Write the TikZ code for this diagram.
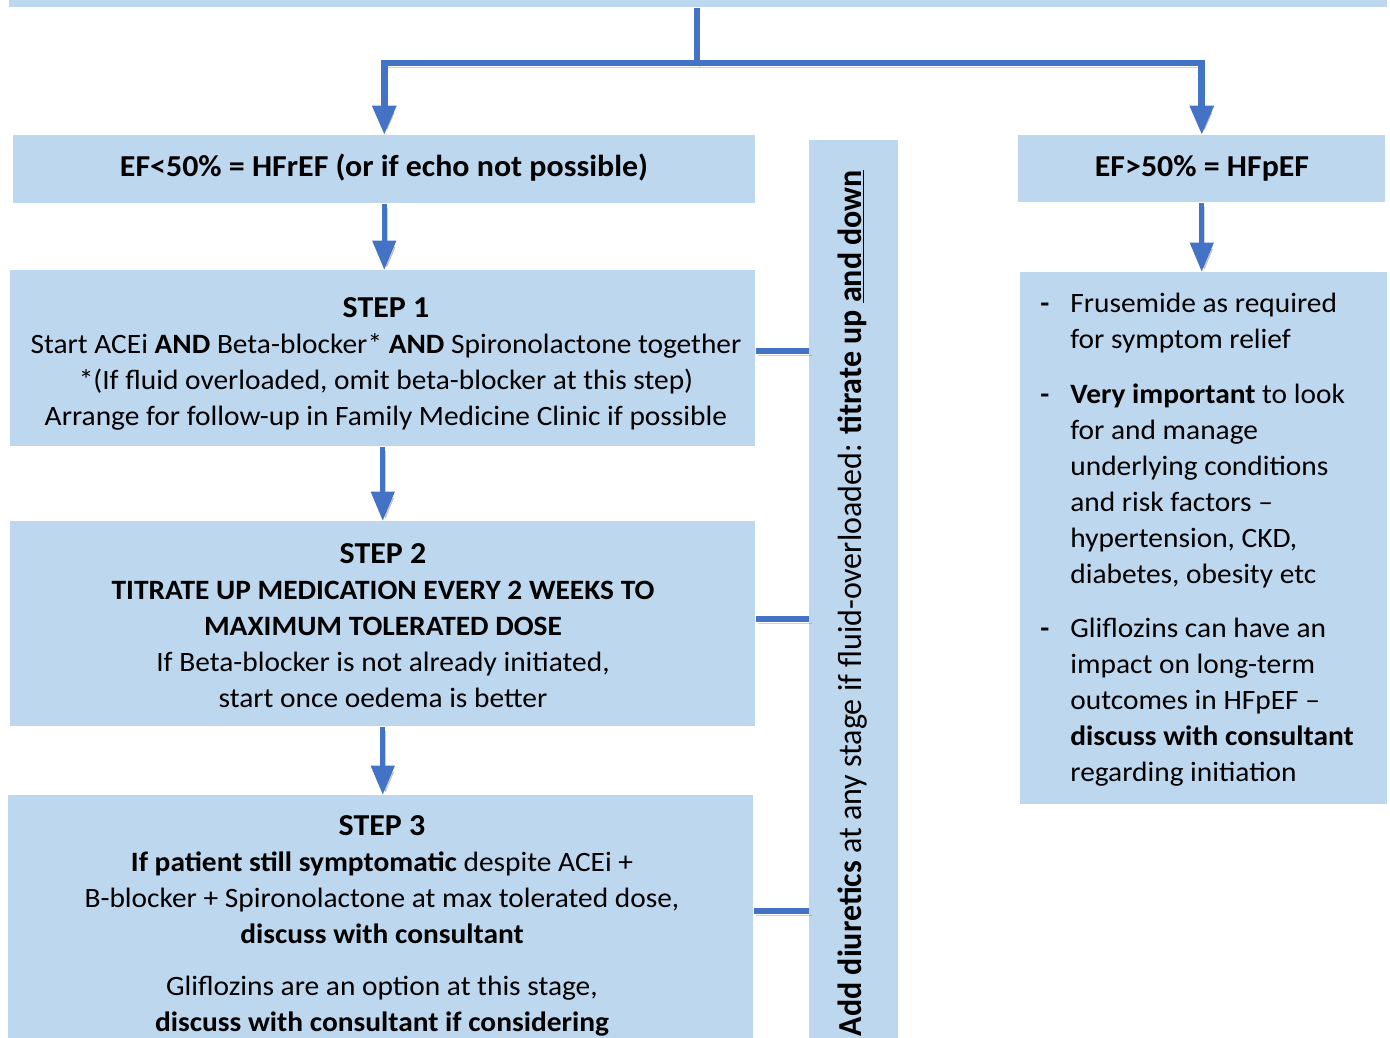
\documentclass[tikz,border=0pt]{standalone}
\usepackage{fontspec}
\setmainfont{Carlito}
\usetikzlibrary{arrows.meta,calc}
\definecolor{boxblue}{HTML}{BDD7EE}
\definecolor{arrblue}{HTML}{4472C4}
\newcommand\hdtext[1]{{\fontsize{22.8}{27}\selectfont\textbf{#1}}}
\begin{document}
\begin{tikzpicture}[x=0.75pt,y=-0.75pt,
  box/.style={fill=boxblue,draw=none,inner sep=0pt,anchor=north west},
  txt/.style={align=center,inner sep=0pt,xscale=1.05,font=\fontsize{21}{27}\selectfont},
  shad/.style={preaction={draw=black,opacity=0.18,transform canvas={xshift=2pt,yshift=-3pt}}},
  lnk/.style={draw=arrblue,line width=4.5pt,shad},
  arr/.style={draw=arrblue,line width=4pt,shad,-{Triangle[width=17pt,length=22pt]}}]
\useasboundingbox (0,0) rectangle (1390,1038);
\clip (0,0) rectangle (1390,1038);
% boxes
\node[box,minimum width=1033.5pt,minimum height=12.75pt] (topbar) at (9,-10) {};
\node[box,minimum width=556.5pt,minimum height=51pt] (hfref) at (13,135) {};
\node[box,minimum width=275.25pt,minimum height=50.25pt] (hfpef) at (1018,135) {};
\node[box,minimum width=66.75pt,minimum height=690pt] (vbar) at (809,140) {};
\node[box,minimum width=558.75pt,minimum height=132pt] (step1) at (10,270) {};
\node[box,minimum width=558.75pt,minimum height=153.75pt] (step2) at (10,521) {};
\node[box,minimum width=558.75pt,minimum height=198.75pt] (step3) at (8,795) {};
\node[box,minimum width=275.25pt,minimum height=399pt] (rbox) at (1020,272) {};
% texts
\node[txt] (t0) at (384,168) {\hdtext{EF<50\% = HFrEF (or if echo not possible)}};
\node[txt] (tp) at (1202,168) {\hdtext{EF>50\% = HFpEF}};
\node[txt] (t1) at (386,364) {\hdtext{STEP 1}\\Start ACEi \textbf{AND} Beta-blocker* \textbf{AND} Spironolactone together\\{*}(If fluid overloaded, omit beta-blocker at this step)\\Arrange for follow-up in Family Medicine Clinic if possible};
\node[txt] (t2) at (383,626) {\hdtext{STEP 2}\\\textbf{TITRATE UP MEDICATION EVERY 2 WEEKS TO}\\\textbf{MAXIMUM TOLERATED DOSE}\\If Beta-blocker is not already initiated,\\start once oedema is better};
\node[txt] (t3) at (382,926) {\hdtext{STEP 3}\\\textbf{If patient still symptomatic} despite ACEi +\\B-blocker + Spironolactone at max tolerated dose,\\\textbf{discuss with consultant}\\[12pt]Gliflozins are an option at this stage,\\\textbf{discuss with consultant if considering}};
\node[txt,font=\fontsize{24}{27}\selectfont,rotate=90,anchor=base east] (tv) at (861,170) {\textbf{Add diuretics} at any stage if fluid-overloaded: \textbf{titrate up \underline{and down}}};
\node[inner sep=0pt,anchor=north west,xscale=1.05,font=\fontsize{21}{27}\selectfont] (tr) at (1040,287) {\begin{tabular}{@{}p{21.5pt}@{}l@{}}
\textbf{-} & Frusemide as required\\
 & for symptom relief\\[14pt]
\textbf{-} & \textbf{Very important} to look\\
 & for and manage\\
 & underlying conditions\\
 & and risk factors –\\
 & hypertension, CKD,\\
 & diabetes, obesity etc\\[14pt]
\textbf{-} & Gliflozins can have an\\
 & impact on long-term\\
 & outcomes in HFpEF –\\
 & \textbf{discuss with consultant}\\
 & regarding initiation
\end{tabular}};
% connectors
\coordinate (split) at (697,63);
\draw[lnk,line width=4pt] (topbar.south -| split) -- (split);
\draw[arr,line width=5pt] (split) -| (hfref.north);
\draw[arr,line width=5pt] (split) -| (hfpef.north);
\draw[arr] (hfref.south) -- (hfref.south |- step1.north);
\draw[arr] (step1.south) -- (step1.south |- step2.north);
\draw[arr] (step2.south) -- (step2.south |- step3.north);
\draw[arr] (hfpef.south) -- (hfpef.south |- rbox.north);
\draw[lnk] ([yshift=5.25pt]step1.east) -- ([yshift=5.25pt]step1.east -| vbar.west);
\draw[lnk] ([yshift=3.4pt]step2.east) -- ([yshift=3.4pt]step2.east -| vbar.west);
\draw[lnk] ([yshift=12.4pt]step3.east) -- ([yshift=12.4pt]step3.east -| vbar.west);
\end{tikzpicture}
\end{document}
